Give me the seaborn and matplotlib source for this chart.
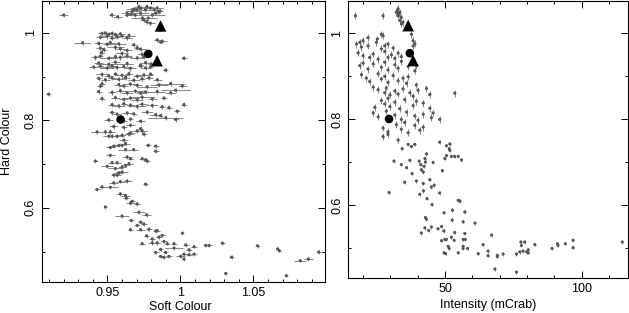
import numpy as np
import pandas as pd
import matplotlib
matplotlib.use("Agg")
import matplotlib.pyplot as plt
import seaborn as sns
from matplotlib.ticker import MultipleLocator, FuncFormatter

# ---------------- data: left panel (Soft colour vs Hard colour) ----------------
soft_top = [0.920, 0.953, 0.957, 0.9635, 0.967, 0.970, 0.9727, 0.976, 0.977, 0.9795,
            0.982, 0.984, 0.985, 0.983, 0.9807, 0.978, 0.975, 0.977, 0.9727, 0.969,
            0.966, 0.9635, 0.974, 0.9795, 0.986, 0.9715, 0.968]
hard_top = [1.041, 1.041, 1.037, 1.045, 1.049, 1.053, 1.057, 1.053, 1.060, 1.057,
            1.053, 1.057, 1.049, 1.045, 1.041, 1.034, 1.030, 1.026, 1.045, 1.041,
            1.043, 1.041, 1.034, 1.022, 1.050, 1.060, 1.054]
soft_err_top = [0.003, 0.002, 0.003, 0.004, 0.005, 0.003, 0.007, 0.003, 0.005, 0.004,
                0.003, 0.004, 0.002, 0.003, 0.009, 0.006, 0.003, 0.002, 0.006, 0.004,
                0.003, 0.002, 0.008, 0.003, 0.002, 0.003, 0.005]

soft_mid = [0.9463, 0.9486, 0.9509, 0.9532, 0.9555, 0.9589, 0.9647,
            0.9452, 0.9498, 0.9532, 0.9566, 0.9600, 0.9635,
            0.9330,
            0.9841, 0.9864, 0.9875,
            0.9440, 0.9498, 0.9520, 0.9578, 0.9680,
            0.9452, 0.9475, 0.9555, 0.9589, 0.9635, 0.9704, 0.9727,
            0.9460, 0.9600, 0.9738,
            0.9418, 0.9452, 0.9509, 0.9555, 0.9589, 0.9635, 0.9704, 0.9750,
            1.0024,
            0.9440, 0.9509, 0.9555, 0.9635, 0.9727, 0.9761, 0.9800,
            0.9406, 0.9452, 0.9498, 0.9532, 0.9566, 0.9612, 0.9658, 0.9727, 0.9761, 0.9795,
            0.9898,
            0.9463, 0.9509, 0.9555, 0.9600, 0.9647, 0.9704, 0.9750, 0.9795,
            0.9440, 0.9486, 0.9532, 0.9578, 0.9624, 0.9681, 0.9738, 0.9784, 0.9841,
            0.9452, 0.9463, 0.9578, 0.9612, 0.9658, 0.9704, 0.9772, 0.9853, 0.9933, 1.0013,
            0.9097,
            0.9440, 0.9532, 0.9589, 0.9635, 0.9692, 0.9727, 0.9761, 0.9841, 0.9933, 0.9967,
            0.9463, 0.9555, 0.9612, 0.9658, 0.9704, 0.9738, 0.9807, 0.9887,
            0.9532, 0.9578, 0.9612, 0.9658, 0.9704, 0.9738, 0.9807, 0.9875, 0.9921, 1.0024,
            0.9532, 0.9566, 0.9635, 0.9680, 0.9772, 0.9830, 0.9864, 0.9978,
            0.9509, 0.9612, 0.9658, 0.9727, 0.9900, 0.9967,
            0.9543, 0.9612, 0.9658, 0.9727]
hard_mid = [0.999, 1.000, 0.997, 0.999, 0.996, 0.998, 0.994,
            0.990, 0.992, 0.988, 0.991, 0.993, 0.989,
            0.977,
            0.984, 0.979, 0.981,
            0.976, 0.974, 0.978, 0.975, 0.973,
            0.965, 0.962, 0.967, 0.964, 0.960, 0.966, 0.963,
            0.955, 0.953, 0.951,
            0.944, 0.947, 0.942, 0.946, 0.944, 0.948, 0.943, 0.946,
            0.942,
            0.931, 0.928, 0.933, 0.930, 0.927, 0.932, 0.929,
            0.922, 0.924, 0.920, 0.925, 0.921, 0.923, 0.919, 0.924, 0.920, 0.922,
            0.915,
            0.905, 0.902, 0.906, 0.903, 0.907, 0.901, 0.904, 0.906,
            0.896, 0.893, 0.897, 0.894, 0.898, 0.892, 0.895, 0.897, 0.893,
            0.878, 0.884, 0.882, 0.879, 0.883, 0.880, 0.877, 0.881, 0.884, 0.879,
            0.860,
            0.866, 0.864, 0.868, 0.863, 0.867, 0.862, 0.865, 0.866, 0.863, 0.869,
            0.850, 0.852, 0.848, 0.851, 0.847, 0.853, 0.849, 0.851,
            0.836, 0.833, 0.838, 0.835, 0.832, 0.837, 0.834, 0.831, 0.829, 0.836,
            0.818, 0.814, 0.817, 0.815, 0.819, 0.813, 0.811, 0.821,
            0.801, 0.799, 0.803, 0.798, 0.806, 0.802,
            0.786, 0.784, 0.789, 0.781]
soft_err_mid = [0.003, 0.002, 0.003, 0.002, 0.002, 0.003, 0.004,
                0.003, 0.004, 0.002, 0.002, 0.004, 0.003,
                0.006,
                0.002, 0.002, 0.003,
                0.003, 0.003, 0.004, 0.005, 0.002,
                0.003, 0.002, 0.006, 0.003, 0.003, 0.002, 0.004,
                0.002, 0.004, 0.003,
                0.003, 0.002, 0.006, 0.004, 0.008, 0.003, 0.005, 0.003,
                0.002,
                0.003, 0.009, 0.003, 0.004, 0.002, 0.003, 0.002,
                0.003, 0.002, 0.005, 0.003, 0.010, 0.003, 0.004, 0.002, 0.003, 0.002,
                0.002,
                0.004, 0.003, 0.002, 0.005, 0.003, 0.003, 0.006, 0.002,
                0.002, 0.003, 0.003, 0.005, 0.003, 0.004, 0.002, 0.003, 0.003,
                0.002, 0.002, 0.003, 0.003, 0.005, 0.003, 0.007, 0.006, 0.010, 0.003,
                0.002,
                0.002, 0.003, 0.003, 0.004, 0.008, 0.003, 0.006, 0.005, 0.004, 0.010,
                0.002, 0.003, 0.003, 0.006, 0.004, 0.009, 0.003, 0.002,
                0.003, 0.004, 0.002, 0.003, 0.006, 0.003, 0.004, 0.002, 0.002, 0.002,
                0.002, 0.003, 0.004, 0.002, 0.004, 0.004, 0.002, 0.002,
                0.003, 0.002, 0.002, 0.003, 0.012, 0.002,
                0.003, 0.002, 0.003, 0.002]

soft_low = [0.9429, 0.9486, 0.9520, 0.9509, 0.9532, 0.9566, 0.9600, 0.9647, 0.9658, 0.9704, 0.9738, 0.9750,
            0.9612, 0.9624, 0.9600, 0.9780, 0.9830, 0.9830,
            0.9520, 0.9543, 0.9578, 0.9624, 0.9680,
            0.9520, 0.9635, 0.9658, 0.9738, 0.9761, 0.9772,
            0.9418, 0.9532, 0.9566, 0.9498, 0.9555, 0.9600, 0.9624, 0.9647,
            0.9578, 0.9600, 0.9566, 0.9543,
            0.9429, 0.9463, 0.9520, 0.9543, 0.9589, 0.9635, 0.9761,
            0.9589, 0.9624, 0.9630, 0.9658, 0.9670, 0.9704,
            0.9486,
            0.9600, 0.9715, 0.9768, 0.9663, 0.9727, 0.9704, 0.9750, 0.9658, 0.9727, 0.9784, 0.9830, 0.9841,
            0.9768, 0.9807, 0.9853, 0.9875, 0.9738, 0.9807, 0.9841, 0.9887, 0.9910, 0.9956,
            1.0013, 1.0036, 1.0093, 1.0173, 1.0196, 1.0288, 1.0528, 1.0665, 1.0677,
            0.9830, 0.9864, 0.9898, 0.9864, 0.9887, 0.9921, 0.9956, 1.0001, 1.0024, 1.0024, 1.0059, 1.0093, 1.0059,
            1.0350, 1.0310, 1.0725, 1.0821, 1.0876, 1.0947]
hard_low = [0.7737, 0.7737, 0.7737, 0.7638, 0.7638, 0.7638, 0.7660, 0.7684, 0.7714, 0.7760, 0.7760, 0.7684,
            0.7546, 0.7470, 0.7430, 0.7430, 0.7410, 0.7294,
            0.7380, 0.7410, 0.7430, 0.7332, 0.7332,
            0.7200, 0.7164, 0.7125, 0.7125, 0.7100, 0.7070,
            0.7070, 0.7034, 0.7034, 0.6950, 0.6900, 0.6930, 0.6970, 0.7010,
            0.6800, 0.6820, 0.6750, 0.6750,
            0.6420, 0.6480, 0.6470, 0.6570, 0.6600, 0.6610, 0.6540,
            0.6320, 0.6280, 0.6220, 0.6110, 0.6150, 0.6090,
            0.6020,
            0.5810, 0.5900, 0.5840, 0.5710, 0.5670, 0.5600, 0.5630, 0.5500, 0.5500, 0.5510, 0.5470, 0.5480,
            0.5360, 0.5290, 0.5330, 0.5370, 0.5180, 0.5200, 0.5200, 0.5230, 0.5180, 0.5180,
            0.5420, 0.5150, 0.5110, 0.5140, 0.5140, 0.5190, 0.5130, 0.5060, 0.5020,
            0.4980, 0.5050, 0.4980, 0.4890, 0.4870, 0.4890, 0.5080, 0.4890, 0.4940, 0.4830, 0.4930, 0.4940, 0.5040,
            0.4870, 0.4500, 0.4450, 0.4790, 0.4830, 0.4990]
soft_err_low = [0.004, 0.003, 0.003, 0.004, 0.003, 0.005, 0.003, 0.003, 0.003, 0.004, 0.003, 0.002,
                0.003, 0.003, 0.003, 0.002, 0.002, 0.002,
                0.003, 0.003, 0.003, 0.005, 0.003,
                0.003, 0.003, 0.002, 0.002, 0.002, 0.002,
                0.002, 0.003, 0.003, 0.004, 0.005, 0.003, 0.003, 0.003,
                0.003, 0.004, 0.003, 0.002,
                0.002, 0.002, 0.005, 0.003, 0.003, 0.003, 0.002,
                0.003, 0.003, 0.002, 0.003, 0.002, 0.002,
                0.001,
                0.005, 0.004, 0.003, 0.002, 0.002, 0.002, 0.002, 0.002, 0.003, 0.002, 0.002, 0.002,
                0.002, 0.002, 0.002, 0.002, 0.002, 0.003, 0.002, 0.002, 0.002, 0.002,
                0.001, 0.002, 0.002, 0.002, 0.002, 0.002, 0.002, 0.001, 0.001,
                0.002, 0.002, 0.002, 0.002, 0.002, 0.002, 0.006, 0.003, 0.002, 0.001, 0.002, 0.002, 0.002,
                0.002, 0.001, 0.001, 0.004, 0.003, 0.002]
hard_err_top, hard_err_mid, hard_err_low = 0.005, 0.005, 0.004

# ---------------- data: right panel (Intensity vs Hard colour) ----------------
inten_up = [17.2, 27.3,
            32.8, 32.2, 33.4, 32.8, 34.0, 33.4, 34.6, 34.0, 32.6, 33.0,
            37.7, 38.3, 38.9, 38.3, 39.5,
            26.7, 27.3, 21.8, 20.0, 25.2,
            17.6, 18.8, 19.4, 21.8, 24.9, 26.7, 27.9, 29.1, 31.0,
            18.2, 20.0, 22.4, 23.7, 25.5, 27.9, 29.1, 30.4, 31.6, 32.8, 34.0,
            18.8, 20.0, 21.8, 23.7, 26.7, 27.9, 29.1, 31.6, 32.8, 34.0, 36.5, 38.9,
            19.4, 21.2, 22.4, 25.5, 26.7, 27.9, 29.1, 31.0, 32.8, 34.6, 35.9, 36.5, 39.5,
            23.7, 25.5, 27.9, 28.5, 29.8, 31.6, 32.8, 34.6, 37.1, 38.3, 40.1, 43.2, 44.4, 53.5,
            24.3, 26.7, 27.9, 29.1, 29.8, 31.6, 33.4, 35.2, 38.3, 39.5, 42.0, 44.4,
            23.7, 25.5, 28.5, 31.6, 34.0, 35.9, 38.9, 40.1, 42.0, 45.0, 45.6, 48.0,
            27.3, 29.1, 32.2, 34.0, 35.2, 36.5, 38.9, 40.7, 42.0,
            27.3, 29.1, 32.8]
hard_up = [1.041, 1.041,
           1.057, 1.049, 1.049, 1.041, 1.037, 1.030, 1.026, 1.022, 1.053, 1.045,
           0.998, 0.983, 0.976, 0.971, 0.925,
           0.998, 0.995, 0.990, 0.983, 0.987,
           0.975, 0.979, 0.968, 0.971, 0.979, 0.964, 0.971, 0.975, 0.966,
           0.955, 0.948, 0.944, 0.952, 0.940, 0.958, 0.944, 0.950, 0.942, 0.954, 0.946,
           0.925, 0.931, 0.917, 0.929, 0.921, 0.933, 0.915, 0.927, 0.919, 0.935, 0.923, 0.913,
           0.904, 0.896, 0.888, 0.906, 0.894, 0.900, 0.886, 0.902, 0.890, 0.896, 0.884, 0.899, 0.880,
           0.875, 0.869, 0.862, 0.873, 0.857, 0.866, 0.859, 0.871, 0.862, 0.854, 0.868, 0.872, 0.858, 0.861,
           0.828, 0.844, 0.836, 0.849, 0.830, 0.840, 0.825, 0.846, 0.832, 0.842, 0.838, 0.826,
           0.815, 0.806, 0.819, 0.810, 0.800, 0.817, 0.808, 0.798, 0.812, 0.804, 0.815, 0.800,
           0.780, 0.771, 0.788, 0.777, 0.793, 0.769, 0.786, 0.775, 0.782,
           0.760, 0.765, 0.752]

inten_low = [34.3, 36.5, 37.7, 38.9, 43.2, 48.0, 50.5, 51.7, 51.5, 51.7, 50.5, 49.9, 52.3, 53.5, 54.8, 56.0,
             31.3, 34.0, 35.9, 37.1, 37.9, 40.5, 41.1, 41.3, 42.0, 42.3, 42.6, 42.8, 45.6,
             35.2, 39.5, 40.7, 42.0, 42.1, 43.4, 44.4, 45.0, 46.0, 48.0, 49.0, 45.2,
             29.5,
             49.6, 52.7, 54.8, 55.4, 57.2, 42.8, 43.2, 41.3, 42.6, 44.0, 45.0, 47.4, 48.7, 49.5,
             52.6, 53.5, 56.6, 60.9, 57.2,
             48.7, 49.9, 50.5, 52.3, 53.3, 56.6, 57.4, 56.6, 51.1, 51.5, 50.2, 49.6, 54.8, 56.6, 58.2,
             63.9, 65.7, 67.0, 62.1, 65.7, 69.1, 69.1, 71.2, 76.1, 77.7, 79.1, 77.9, 77.3, 78.5,
             79.8, 80.4, 80.4, 82.8,
             89.1, 91.1, 91.3, 94.0, 96.8, 96.8, 114.8, 68.2, 76.1]
hard_low_r = [0.732, 0.742, 0.737, 0.742, 0.720, 0.747, 0.739, 0.743, 0.732, 0.728, 0.716, 0.709, 0.714, 0.714, 0.714, 0.706,
              0.703, 0.695, 0.688, 0.705, 0.674, 0.703, 0.695, 0.683, 0.678, 0.691, 0.709, 0.701, 0.700,
              0.654, 0.657, 0.626, 0.651, 0.634, 0.616, 0.660, 0.643, 0.647, 0.629, 0.681, 0.602,
              0.630,
              0.583, 0.589, 0.612, 0.610, 0.585, 0.572, 0.568, 0.536, 0.548, 0.542, 0.550, 0.546, 0.551, 0.541,
              0.566, 0.537, 0.562, 0.559, 0.535,
              0.518, 0.521, 0.521, 0.526, 0.519, 0.521, 0.521, 0.505, 0.505, 0.500, 0.488, 0.490, 0.490, 0.500, 0.500,
              0.509, 0.494, 0.531, 0.488, 0.483, 0.484, 0.481, 0.487, 0.487, 0.515, 0.515, 0.507, 0.492, 0.494,
              0.492, 0.497, 0.490, 0.509,
              0.500, 0.511, 0.507, 0.511, 0.519, 0.502, 0.515, 0.452, 0.445]
inten_err_up, hard_err_up = 0.35, 0.008
inten_err_low, hard_err_low_r = 0.3, 0.004

# highlighted observations (black symbols)
mark_kind = ["triangle", "triangle", "circle", "circle"]
mark_soft = [0.9864, 0.9840, 0.9780, 0.9590]
mark_inten = [36.5, 38.3, 37.1, 29.5]
mark_hard_l = [1.016, 0.9365, 0.952, 0.802]
mark_hard_r = [1.018, 0.937, 0.954, 0.801]

# ---------------- build tables ----------------
left = pd.DataFrame({
    "soft": soft_top + soft_mid + soft_low,
    "hard": hard_top + hard_mid + hard_low,
    "soft_err": soft_err_top + soft_err_mid + soft_err_low,
    "hard_err": [hard_err_top] * len(soft_top) + [hard_err_mid] * len(soft_mid) + [hard_err_low] * len(soft_low),
})
right = pd.DataFrame({
    "inten": inten_up + inten_low,
    "hard": hard_up + hard_low_r,
    "inten_err": [inten_err_up] * len(inten_up) + [inten_err_low] * len(inten_low),
    "hard_err": [hard_err_up] * len(inten_up) + [hard_err_low_r] * len(inten_low),
})
marks = pd.DataFrame({"kind": mark_kind, "soft": mark_soft, "inten": mark_inten,
                      "hard_l": mark_hard_l, "hard_r": mark_hard_r})

# ---------------- style ----------------
sns.set_style("ticks")
plt.rcParams["font.family"] = ["Liberation Sans", "DejaVu Sans"]
plt.rcParams["text.color"] = "black"
plt.rcParams["axes.labelcolor"] = "black"
plt.rcParams["xtick.color"] = "black"
plt.rcParams["ytick.color"] = "black"

fig = plt.figure(figsize=(6.29, 3.13), dpi=100)
axL = fig.add_axes([0.0663, 0.1000, 0.4504, 0.8968])
axR = fig.add_axes([0.5537, 0.1128, 0.4443, 0.8850])

pt_color = "#555555"
err_color = "#8a8a8a"

axL.errorbar(left["soft"], left["hard"], xerr=left["soft_err"], yerr=left["hard_err"],
             fmt="none", ecolor=err_color, elinewidth=0.75, capsize=0, zorder=1)
sns.scatterplot(data=left, x="soft", y="hard", ax=axL, color=pt_color, s=5,
                linewidth=0, edgecolor="none", zorder=2, legend=False)
sns.scatterplot(data=marks, x="soft", y="hard_l", ax=axL, style="kind", size="kind",
                markers={"triangle": "^", "circle": "o"}, sizes={"triangle": 70, "circle": 38},
                color="black", linewidth=0, edgecolor="none", zorder=3, legend=False)

axR.errorbar(right["inten"], right["hard"], xerr=right["inten_err"], yerr=right["hard_err"],
             fmt="none", ecolor=err_color, elinewidth=0.75, capsize=0, zorder=1)
sns.scatterplot(data=right, x="inten", y="hard", ax=axR, color=pt_color, s=5,
                linewidth=0, edgecolor="none", zorder=2, legend=False)
sns.scatterplot(data=marks, x="inten", y="hard_r", ax=axR, style="kind", size="kind",
                markers={"triangle": "^", "circle": "o"}, sizes={"triangle": 70, "circle": 38},
                color="black", linewidth=0, edgecolor="none", zorder=3, legend=False)

fmt = FuncFormatter(lambda v, p: f"{v:g}")

axL.set_xlim(0.905, 1.099)
axL.set_ylim(0.431, 1.073)
axL.xaxis.set_major_locator(MultipleLocator(0.05))
axL.xaxis.set_minor_locator(MultipleLocator(0.01))

axR.set_xlim(14.6, 116.8)
axR.set_ylim(0.432, 1.076)
axR.xaxis.set_major_locator(MultipleLocator(50))
axR.xaxis.set_minor_locator(MultipleLocator(10))

for ax in (axL, axR):
    ax.yaxis.set_major_locator(MultipleLocator(0.2))
    ax.yaxis.set_minor_locator(MultipleLocator(0.1))
    ax.xaxis.set_major_formatter(fmt)
    ax.yaxis.set_major_formatter(fmt)
    ax.tick_params(which="both", direction="in", top=True, right=True,
                   labelsize=9, width=0.7, colors="black")
    ax.tick_params(which="major", length=5)
    ax.tick_params(which="minor", length=2.5)
    ax.tick_params(axis="x", pad=3.5)
    ax.tick_params(axis="y", pad=3.5, labelrotation=90)
    for sp in ax.spines.values():
        sp.set_linewidth(0.8)
        sp.set_color("black")
    ax.grid(False)

axL.set_xlabel("Soft Colour", fontsize=9, va="center")
axL.xaxis.set_label_coords(0.488, -0.090)
axL.set_ylabel("Hard Colour", fontsize=9, va="center", ha="center")
axL.yaxis.set_label_coords(-0.124, 0.5)
axR.set_xlabel("Intensity (mCrab)", fontsize=9, va="center")
axR.xaxis.set_label_coords(0.5, -0.100)
axR.set_ylabel("")

fig.canvas.draw()
for ax in (axL, axR):
    for lab in ax.get_yticklabels():
        lab.set_va("center")

fig.savefig("out.png", dpi=100)
